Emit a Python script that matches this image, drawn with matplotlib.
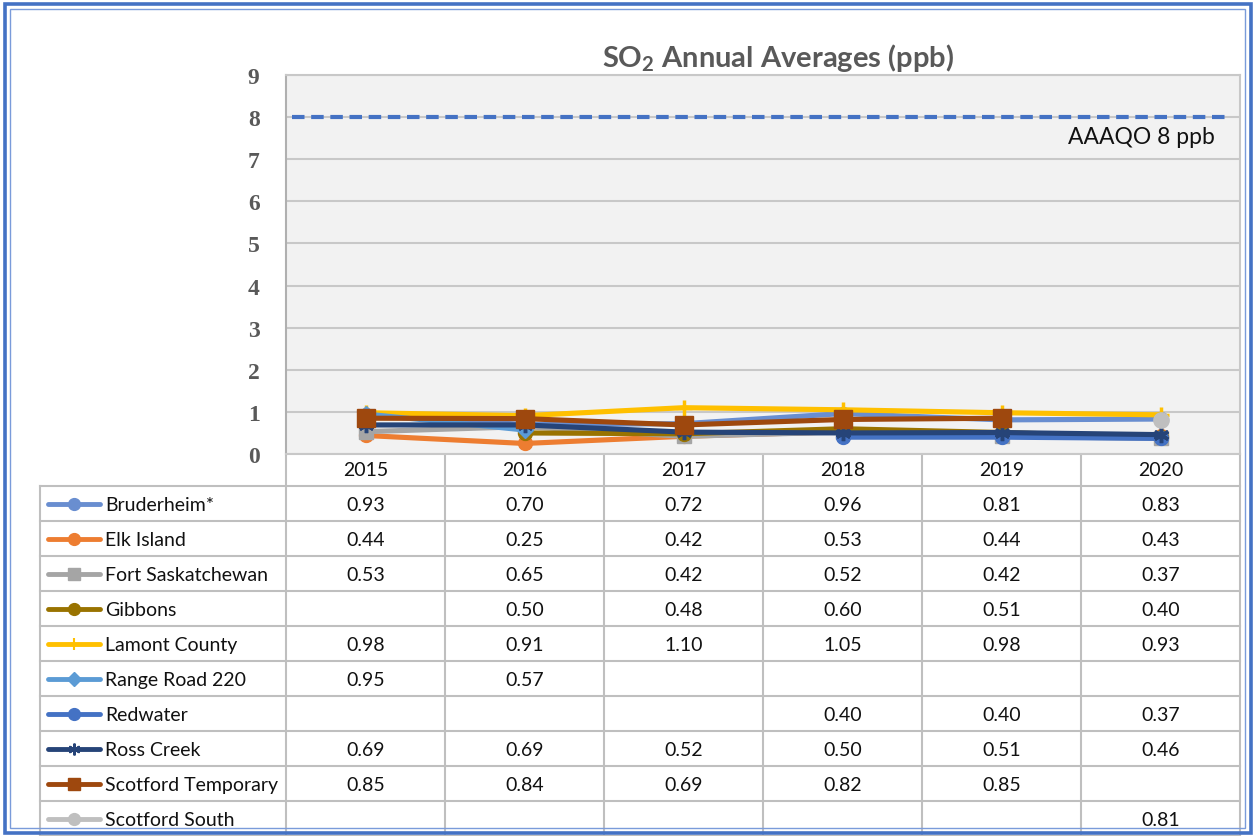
import matplotlib as mpl
import matplotlib.pyplot as plt
import numpy as np
from matplotlib.patches import Rectangle

nan = np.nan

YEARS = ["2015", "2016", "2017", "2018", "2019", "2020"]
STATIONS = ["Bruderheim*", "Elk Island", "Fort Saskatchewan", "Gibbons",
            "Lamont County", "Range Road 220", "Redwater", "Ross Creek",
            "Scotford Temporary", "Scotford South"]
bruderheim = [0.93, 0.70, 0.72, 0.96, 0.81, 0.83]
elk_island = [0.44, 0.25, 0.42, 0.53, 0.44, 0.43]
fort_sask = [0.53, 0.65, 0.42, 0.52, 0.42, 0.37]
gibbons = [nan, 0.50, 0.48, 0.60, 0.51, 0.40]
lamont = [0.98, 0.91, 1.10, 1.05, 0.98, 0.93]
range_road = [0.95, 0.57, nan, nan, nan, nan]
redwater = [nan, nan, nan, 0.40, 0.40, 0.37]
ross_creek = [0.69, 0.69, 0.52, 0.50, 0.51, 0.46]
scotford_temp = [0.85, 0.84, 0.69, 0.82, 0.85, nan]
scotford_south = [nan, nan, nan, nan, nan, 0.81]
SERIES = [bruderheim, elk_island, fort_sask, gibbons, lamont, range_road,
          redwater, ross_creek, scotford_temp, scotford_south]
AAAQO = 8

COLORS = ["#698ED0", "#ED7D31", "#A5A5A5", "#997300", "#FFC000", "#5B9BD5",
          "#4472C4", "#264478", "#9E480E", "#BFBFBF"]
MARKERS = ["o", "o", "s", "o", "+", "D", "o", (6, 2, 0), "s", "o"]
MSIZES = [10, 10, 10, 10, 11, 8, 10, 11, 13, 11]

W, H = 1255, 837
plt.rcParams["font.family"] = ["Lato", "DejaVu Sans"]
FS = 14

fig = plt.figure(figsize=(W / 100, H / 100), dpi=100)

# pixel overlay for table, frame and title
ov = fig.add_axes([0, 0, 1, 1], zorder=0)
ov.set_xlim(0, W)
ov.set_ylim(H, 0)
ov.axis("off")

PL, PR, PT, PB = 286, 1240, 76, 455
ax = fig.add_axes([PL / W, 1 - PB / H, (PR - PL) / W, (PB - PT) / H], zorder=2)
ax.set_facecolor("#F2F2F2")
ax.set_xlim(-0.5, len(YEARS) - 0.5)
ax.set_ylim(0, 9)
ax.set_yticks(range(10))
ax.set_yticklabels([str(i) for i in range(10)], family="Liberation Serif",
                   weight="bold", fontsize=17, color="#595959")
ax.tick_params(axis="y", length=0, pad=19)
ax.set_xticks([])
for s in ax.spines.values():
    s.set_color("#C8C8C8")
    s.set_linewidth(1.5)
ax.spines["left"].set_color("#B0B0B0")
ax.grid(True, axis="y", color="#C8C8C8", linewidth=1.5)
ax.set_axisbelow(True)

x = np.arange(len(YEARS))
for vals, c, m, ms in zip(SERIES, COLORS, MARKERS, MSIZES):
    mew = 2.5 if m == "+" or isinstance(m, tuple) else 1
    ax.plot(x, vals, color=c, lw=3.7, marker=m, ms=ms, mec=c, mfc=c, mew=mew,
            solid_capstyle="round", zorder=3)

ax.axhline(AAAQO, xmin=0.006, xmax=0.99, color="#4472C4", lw=3,
           dashes=(3, 1.6), zorder=4)
ax.text(0.974, AAAQO - 0.47, "AAAQO 8 ppb", ha="right", va="center",
        fontsize=16.5, color="#111111", transform=ax.get_yaxis_transform())

# title
ov.text(778, 58, "SO$_\\mathregular{2}$ Annual Averages (ppb)", ha="center",
        va="center", fontsize=21, weight="bold", color="#595959")

# data table
GRID = "#BFBFBF"
TL = 40
ROW0, RH = 487, 35
CW = (PR - PL) / len(YEARS)
nrows = len(STATIONS)
for i in range(len(YEARS) + 1):
    ov.plot([PL + i * CW] * 2, [PB, ROW0 + nrows * RH], color=GRID, lw=1.5)
ov.plot([TL, TL], [ROW0, ROW0 + nrows * RH], color=GRID, lw=1.5)
for r in range(nrows + 1):
    ov.plot([TL, PR], [ROW0 + r * RH] * 2, color=GRID, lw=1.5)
for i, yr in enumerate(YEARS):
    ov.text(PL + (i + 0.5) * CW, (PB + ROW0) / 2, yr, ha="center",
            va="center", fontsize=FS, color="#111111")
for r, (name, vals) in enumerate(zip(STATIONS, SERIES)):
    yc = ROW0 + (r + 0.5) * RH
    m = MARKERS[r]
    mew = 1.5 if m == "+" or isinstance(m, tuple) else 1
    ov.plot([48, 100], [yc, yc], color=COLORS[r], lw=3.5,
            solid_capstyle="round")
    ov.plot([74], [yc], marker=m, color=COLORS[r], ms=min(MSIZES[r], 10) * 0.85,
            mew=mew)
    ov.text(105, yc + 1, name, ha="left", va="center", fontsize=FS,
            color="#111111")
    for i, v in enumerate(vals):
        if not np.isnan(v):
            ov.text(PL + (i + 0.5) * CW, yc + 1, f"{v:.2f}", ha="center",
                    va="center", fontsize=FS, color="#111111")

# outer frame
ov.add_patch(Rectangle((4.5, 4.5), W - 9, H - 8, fill=False,
                       edgecolor="#4472C4", lw=2.6, zorder=5))
ov.add_patch(Rectangle((10, 10), W - 20, H - 18, fill=False,
                       edgecolor="#7A9BDA", lw=1.0, zorder=5))

fig.savefig("out.png", dpi=100)
